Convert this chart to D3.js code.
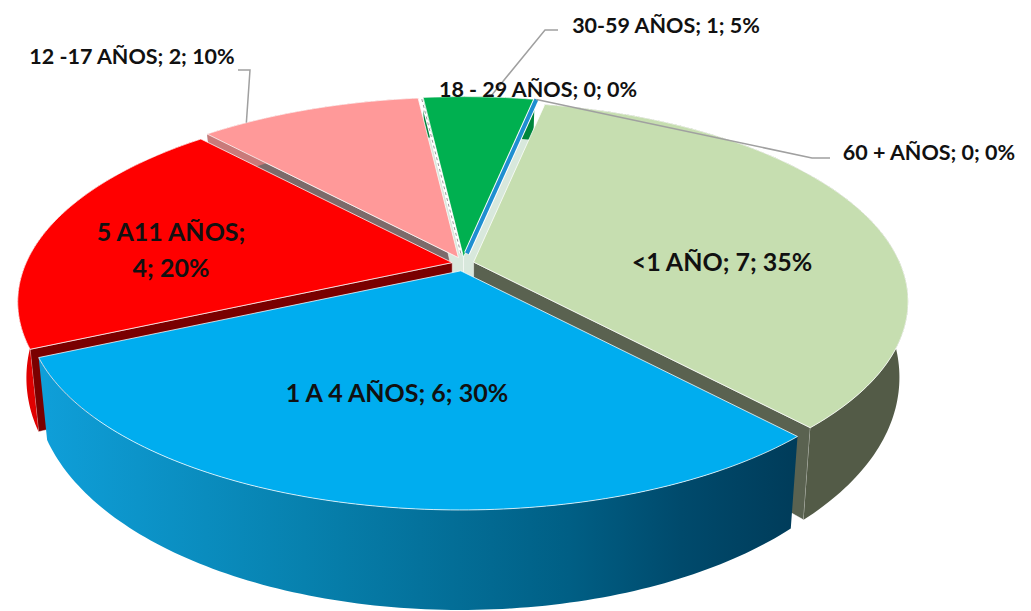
<!DOCTYPE html>
<html>
<head>
<meta charset="utf-8">
<style>
  html, body { margin: 0; padding: 0; background: #fff; overflow: hidden; }
  text { font-family: Lato, "Open Sans", sans-serif; font-weight: 700; fill: #111; }
</style>
<script src="https://cdn.jsdelivr.net/npm/d3@7"></script>
</head>
<body>
<svg id="chart"></svg>
<script>
const categories = ['<1 AÑO', '1 A 4 AÑOS', '5 A11 AÑOS', '12 -17 AÑOS', '18 - 29 AÑOS', '30-59 AÑOS', '60 + AÑOS'];
const values = [7, 6, 4, 2, 0, 1, 0];
const percents = [35, 30, 20, 10, 0, 5, 0];
const topColors = ['#c6deb0', '#00adef', '#ff0000', '#ff9999', '#ffffff', '#00b050', '#1e8fd0'];
const sideColors = ['#535b47', 'url(#blueSide)', '#e00000', '#c97a7a', '#ffffff', '#00863c', '#1e8fd0'];
const wallColors = ['#5a6250', '#004a6c', '#7a0000', '#7d6a6a', '#ffffff', '#d8e8dc', '#1e8fd0'];

const WIDTH = 1031;
const HEIGHT = 611;
const CENTER = { x: 463, y: 264 };
const RADIUS = { x: 426, y: 192 };
const PERSPECTIVE = 0.197;
const EXPLODE = { x: 11, y: 7 };
const START = 11.5 * Math.PI / 180;

// label layout: [x, y, anchor] of each line, text is split where the original wraps
const LABELS = [
  { i: 0, x: 722, y: 271, size: 25, lines: ['<1 AÑO; 7; 35%'] },
  { i: 1, x: 397, y: 402, size: 25, lines: ['1 A 4 AÑOS; 6; 30%'] },
  { i: 2, x: 171, y: 241, size: 25, lines: ['5 A11 AÑOS;', '4; 20%'] },
  { i: 3, x: 132, y: 64, size: 21.5, lines: ['12 -17 AÑOS; 2; 10%'] },
  { i: 4, x: 538, y: 97, size: 21.5, lines: ['18 - 29 AÑOS; 0; 0%'] },
  { i: 5, x: 666, y: 33, size: 21.5, lines: ['30-59 AÑOS; 1; 5%'] },
  { i: 6, x: 929, y: 160, size: 21.5, lines: ['60 + AÑOS; 0; 0%'] }
];
const LEADERS = [
  { i: 3, r: 1, at: 0.2, points: [[250, 70], [238, 70]] },
  { i: 5, r: 1, at: 0.6, points: [[545, 30], [558, 30]] },
  { i: 6, r: 1, at: 0, points: [[812, 158], [830, 158]] }
];

const svg = d3.select('#chart').attr('width', WIDTH).attr('height', HEIGHT);

const defs = svg.append('defs');
const grad = defs.append('linearGradient')
  .attr('id', 'blueSide')
  .attr('gradientUnits', 'userSpaceOnUse')
  .attr('x1', 40).attr('x2', 795).attr('y1', 0).attr('y2', 0);
[[0, '#0f9fd9'], [0.35, '#0781ae'], [0.7, '#005f85'], [0.85, '#004a6c'], [1, '#003c5a']].forEach((s) => {
  grad.append('stop').attr('offset', s[0]).attr('stop-color', s[1]);
});

const pie = d3.pie().sort(null).value(d => d)
  .startAngle(START).endAngle(START + 2 * Math.PI);
const slices = pie(values);

// disk point -> screen, level 1 is the bottom face of the pie
function project(theta, r, level, off) {
  const u = r * Math.sin(theta);
  const v = -r * Math.cos(theta);
  const w = 1 - PERSPECTIVE * v;
  const s = 1 - 0.02 * level;
  const x = (RADIUS.x * u / w) * s;
  const y = RADIUS.y * v / w + level * (70 + 30 * v);
  return [CENTER.x + off[0] + x, CENTER.y + off[1] + y];
}

function offsetOf(d) {
  const mid = (d.startAngle + d.endAngle) / 2;
  return [EXPLODE.x * Math.sin(mid), -EXPLODE.y * Math.cos(mid)];
}

function rim(d, level) {
  const n = Math.max(2, Math.ceil((d.endAngle - d.startAngle) * 60));
  const off = offsetOf(d);
  return d3.range(n + 1).map(k => project(d.startAngle + (d.endAngle - d.startAngle) * k / n, 1, level, off));
}

const line = d3.line();
const closed = pts => `${line(pts)}Z`;

function wallVisible(d, theta) {
  const off = offsetOf(d);
  const a = project(0, 0, 0, off);
  const e = project(theta, 1, 0, off);
  const m = project((d.startAngle + d.endAngle) / 2, 0.8, 0, off);
  const slope = (e[1] - a[1]) / (e[0] - a[0]);
  return (m[1] - a[1]) < slope * (m[0] - a[0]);
}

// painter order: back slices first, front slice last
const order = [3, 5, 2, 0, 1];
const lower = svg.append('g').attr('class', 'sides');
order.forEach((i) => {
  const d = slices[i];
  const off = offsetOf(d);
  [d.startAngle, d.endAngle].forEach((t) => {
    if (!wallVisible(d, t)) return;
    lower.append('path')
      .attr('d', closed([project(0, 0, 0, off), project(t, 1, 0, off), project(t, 1, 1, off), project(0, 0, 1, off)]))
      .attr('fill', wallColors[i])
      .attr('stroke', '#ffffff')
      .attr('stroke-opacity', 0.6)
      .attr('stroke-width', 0.8);
  });
  lower.append('path')
    .attr('d', closed(rim(d, 0).concat(rim(d, 1).reverse())))
    .attr('fill', sideColors[i]);
});

const upper = svg.append('g').attr('class', 'tops');
order.forEach((i) => {
  const d = slices[i];
  upper.append('path')
    .attr('d', closed([project(0, 0, 0, offsetOf(d))].concat(rim(d, 0))))
    .attr('fill', topColors[i])
    .attr('stroke', '#ffffff')
    .attr('stroke-opacity', 0.75)
    .attr('stroke-width', 1);
});

// zero slices only show up as their outline
const zero = svg.append('g').attr('class', 'zero');
slices.forEach((d, i) => {
  if (d.value !== 0) return;
  const off = offsetOf(d);
  const seg = line([project(d.startAngle, 0.02, 0, off), project(d.startAngle, 1, 0, off)]);
  zero.append('path').attr('d', seg).attr('fill', 'none')
    .attr('stroke', '#ffffff').attr('stroke-width', i === 6 ? 6 : 3);
  zero.append('path').attr('d', seg).attr('fill', 'none')
    .attr('stroke', i === 6 ? topColors[i] : '#9a9a9a')
    .attr('stroke-width', i === 6 ? 4 : 1)
    .attr('stroke-dasharray', i === 6 ? null : '3 3');
});

const leaders = svg.append('g').attr('class', 'leaders');
LEADERS.forEach((l) => {
  const d = slices[l.i];
  const t = d.startAngle + (d.endAngle - d.startAngle) * l.at;
  const start = project(t, l.r, 0, offsetOf(d));
  leaders.append('path')
    .attr('d', line([start].concat(l.points)))
    .attr('fill', 'none')
    .attr('stroke', '#a0a0a0')
    .attr('stroke-width', 1.5);
});

const labels = svg.append('g').attr('class', 'labels');
LABELS.forEach((l) => {
  const t = labels.append('text')
    .attr('text-anchor', 'middle')
    .attr('font-size', l.size);
  l.lines.forEach((s, k) => {
    t.append('tspan').attr('x', l.x).attr('y', l.y + k * 36).text(s);
  });
});
</script>
</body>
</html>
